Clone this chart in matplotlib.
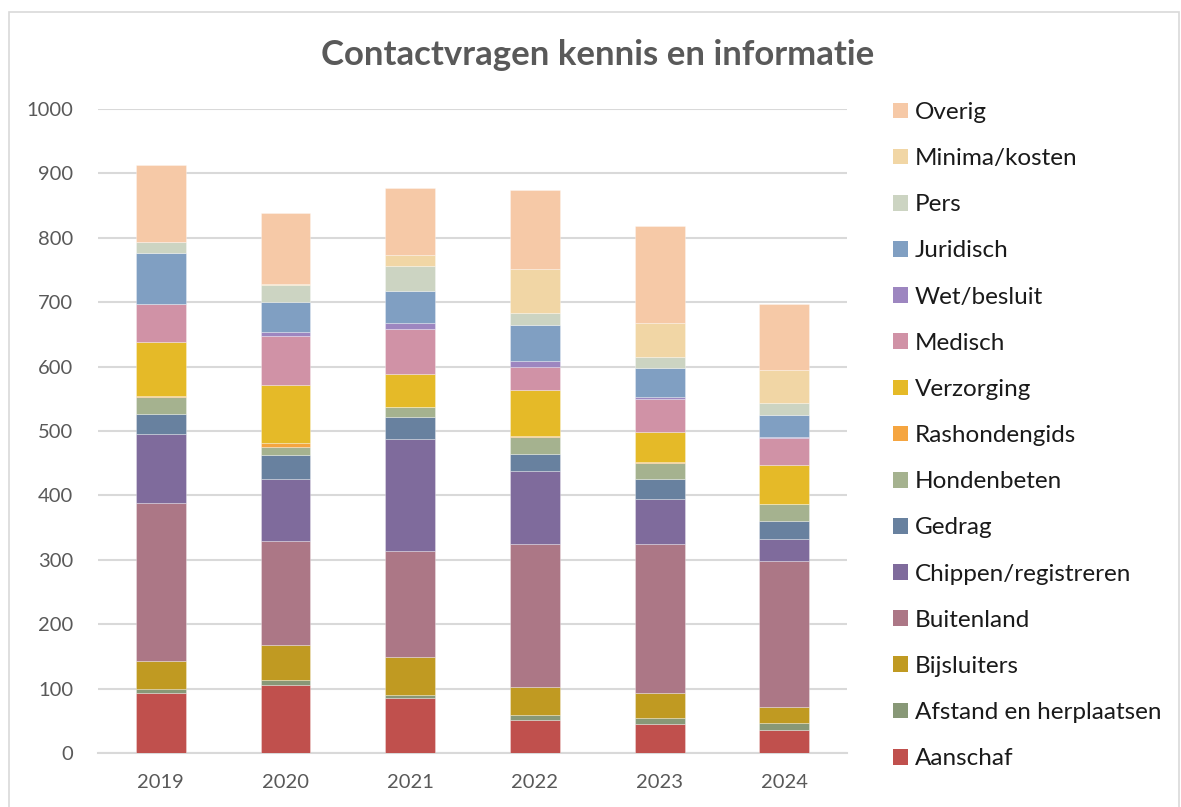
import matplotlib
matplotlib.use('Agg')
import matplotlib.pyplot as plt
from matplotlib.patches import Rectangle, Patch
import numpy as np

plt.rcParams['font.family'] = ['Lato', 'DejaVu Sans']

years = ['2019', '2020', '2021', '2022', '2023', '2024']

# stack order, bottom to top
categories = ['Aanschaf', 'Afstand en herplaatsen', 'Bijsluiters', 'Buitenland',
              'Chippen/registreren', 'Gedrag', 'Hondenbeten', 'Rashondengids',
              'Verzorging', 'Medisch', 'Wet/besluit', 'Juridisch', 'Pers',
              'Minima/kosten', 'Overig']

aanschaf = [93, 106, 85, 52, 45, 36]
afstand = [6, 7, 5, 7, 10, 10]
bijsluiters = [44, 54, 59, 43, 38, 25]
buitenland = [246, 162, 164, 222, 231, 227]
chippen = [107, 96, 175, 114, 71, 35]
gedrag = [31, 38, 33, 26, 30, 27]
hondenbeten = [26, 12, 16, 26, 26, 26]
rashondengids = [1, 6, 1, 3, 1, 1]
verzorging = [84, 91, 50, 71, 46, 60]
medisch = [60, 75, 71, 36, 52, 42]
wet_besluit = [0, 6, 9, 8, 3, 2]
juridisch = [79, 48, 50, 56, 45, 34]
pers = [17, 25, 38, 20, 17, 18]
minima = [0, 3, 17, 67, 52, 51]
overig = [119, 110, 105, 124, 152, 104]

series = [aanschaf, afstand, bijsluiters, buitenland, chippen, gedrag, hondenbeten,
          rashondengids, verzorging, medisch, wet_besluit, juridisch, pers, minima, overig]

colors = ['#C0504D', '#889877', '#C09A22', '#AC7786', '#7F6B9C', '#68819F',
          '#A5B28F', '#F5A540', '#E5BA28', '#D092A6', '#9D86C0', '#809FC2',
          '#CCD4C2', '#F1D6A5', '#F6C9A7']

fig = plt.figure(figsize=(11.81, 8.07), dpi=100)
ax = fig.add_axes([0.0833, 0.0669, 0.6336, 0.798])

# chart border
fig.patches.append(Rectangle((9 / 1181, -0.01), 1170 / 1181, 1 - 12 / 807 + 0.01,
                             transform=fig.transFigure, fill=False,
                             edgecolor='#D9D9D9', linewidth=1.2))

x = np.arange(len(years))
bottom = np.zeros(len(years))
for vals, col, name in zip(series, colors, categories):
    ax.bar(x, vals, width=0.4, bottom=bottom, color=col, label=name,
           edgecolor=(1, 1, 1, 0.35), linewidth=0.6, zorder=3)
    bottom += np.array(vals)

ax.set_xlim(-0.5, 5.5)
ax.set_ylim(0, 1000)
ax.set_yticks(range(0, 1001, 100))
ax.set_xticks(x)
ax.set_xticklabels(years)
ax.grid(axis='y', color='#D9D9D9', linewidth=1.5, zorder=0)
for s in ['top', 'right', 'left']:
    ax.spines[s].set_visible(False)
ax.spines['bottom'].set_color('#D9D9D9')
ax.spines['bottom'].set_linewidth(1.5)
ax.tick_params(axis='both', length=0, labelsize=14.5, colors='#595959')
ax.tick_params(axis='y', pad=18)
ax.tick_params(axis='x', pad=15)

fig.text(598 / 1181, 1 - 55 / 807, 'Contactvragen kennis en informatie',
         ha='center', va='center', fontsize=25, fontweight='bold', color='#595959')

handles = [Patch(facecolor=c, edgecolor='none') for c in colors]
leg = fig.legend(handles[::-1], categories[::-1], loc='upper left',
                 bbox_to_anchor=(893 / 1181, 1 - 102 / 807), frameon=False,
                 fontsize=17.5, handlelength=0.62, handleheight=0.62,
                 handletextpad=0.28, labelspacing=1.035, borderaxespad=0,
                 borderpad=0)
for t in leg.get_texts():
    t.set_color('#1A1A1A')

fig.savefig('out.png', dpi=100)
